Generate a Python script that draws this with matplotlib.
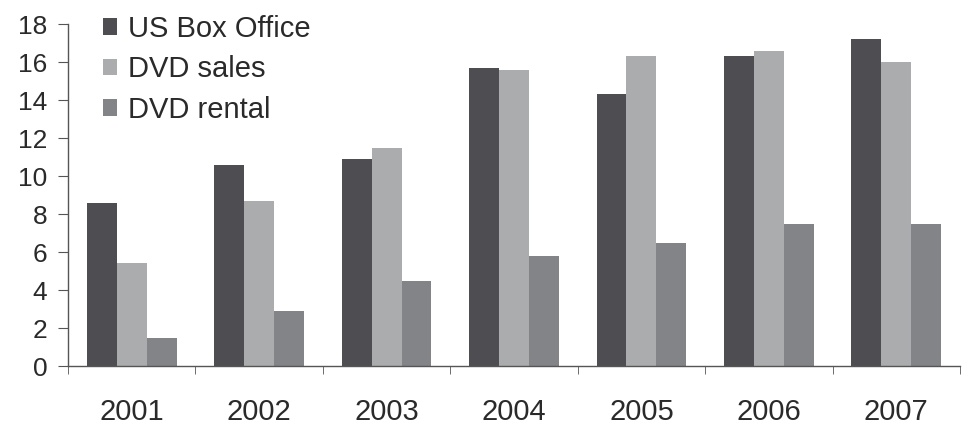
import numpy as np
import matplotlib.pyplot as plt

plt.rcParams['font.family'] = ['Liberation Sans', 'DejaVu Sans']

years = ['2001', '2002', '2003', '2004', '2005', '2006', '2007']
box_office = [8.6, 10.6, 10.9, 15.7, 14.3, 16.3, 17.2]
dvd_sales = [5.4, 8.7, 11.5, 15.6, 16.3, 16.6, 16.0]
dvd_rental = [1.5, 2.9, 4.5, 5.8, 6.5, 7.5, 7.5]

fig = plt.figure(figsize=(9.63, 4.25), dpi=100)
ax = fig.add_axes([68/963, 59/425, 892/963, 342/425])

x = np.arange(len(years))
w = 0.235
ax.bar(x - w, box_office, w, color='#4e4e52', label='US Box Office')
ax.bar(x, dvd_sales, w, color='#aaacae', label='DVD sales')
ax.bar(x + w, dvd_rental, w, color='#838487', label='DVD rental')

ax.set_xlim(-0.5, len(years) - 0.5)
ax.set_ylim(0, 18)
ax.set_yticks(np.arange(0, 19, 2))
ax.set_xticks(x)
ax.set_xticklabels(years)
ax.set_xticks(np.arange(-0.5, len(years)), minor=True)

for s in ['top', 'right']:
    ax.spines[s].set_visible(False)
for s in ['left', 'bottom']:
    ax.spines[s].set_color('#555555')
    ax.spines[s].set_linewidth(1)

ax.tick_params(axis='y', direction='out', length=7, pad=8, labelsize=19,
               color='#555555', labelcolor='#2a2a2a')
ax.tick_params(axis='x', which='major', length=0, pad=23, labelsize=21,
               labelcolor='#2a2a2a')
ax.tick_params(axis='x', which='minor', direction='out', length=6,
               color='#555555')

ax.legend(loc='upper left', bbox_to_anchor=(0.026, 1.06), frameon=False,
          fontsize=21, handlelength=0.5, handleheight=0.5,
          handletextpad=0.35, labelspacing=0.42, borderaxespad=0,
          labelcolor='#2a2a2a')

fig.savefig('out.png', dpi=100)
